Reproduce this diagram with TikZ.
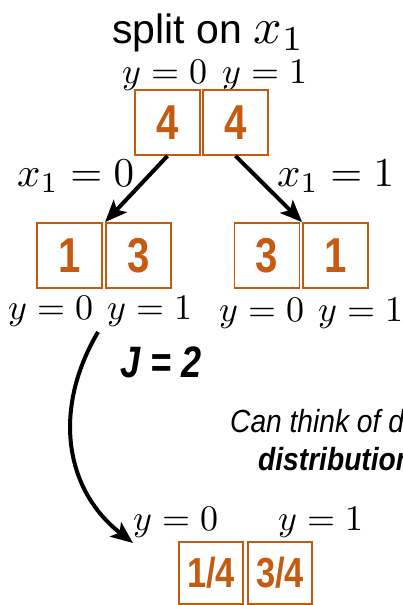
\documentclass[tikz,border=0pt]{standalone}
\usepackage[no-math]{fontspec}
\usepackage{graphicx}
\setmainfont{Liberation Sans}
\newfontfamily\narrowfont[FakeStretch=0.82]{Liberation Sans}
\newfontfamily\notefont[FakeStretch=0.88]{Liberation Sans}
\usetikzlibrary{arrows.meta}
\definecolor{boxorange}{RGB}{197,90,17}
\newcommand\scaledmath[2]{\scalebox{#1}{\normalsize$#2$}}
\tikzset{
  cnt/.style={draw=boxorange, line width=1.8pt, minimum width=65pt, minimum height=65pt,
    inner sep=0pt, text=boxorange, font=\narrowfont\bfseries\fontsize{49}{49}\selectfont},
  fracbox/.style={cnt, minimum width=64pt, minimum height=62pt,
    font=\narrowfont\bfseries\fontsize{42}{42}\selectfont},
  txt/.style={anchor=base west, inner sep=0pt},
  bigarrow/.style={line width=4pt, -{Stealth[length=22pt,width=18pt,inset=5pt]}},
}
\begin{document}
\begin{tikzpicture}[x=1pt,y=1pt]
\useasboundingbox (0,0) rectangle (402,-605);
\clip (0,0) rectangle (402,-605);
% title
\node[txt, font=\fontsize{41}{41}\selectfont] (title) at (112,-43) {split on \scaledmath{5.0}{x_1}};
% top level
\node[txt] (ty0) at (122,-83) {\scaledmath{3.6}{y=0}};
\node[txt] (ty1) at (222,-83) {\scaledmath{3.6}{y=1}};
\node[cnt] (t0) at (167.5,-122.5) {4};
\node[cnt] (t1) at (235.5,-122.5) {4};
% edge labels
\node[txt] (e0) at (17,-186) {\scaledmath{4.1}{x_1=0}};
\node[txt] (e1) at (277,-186) {\scaledmath{4.1}{x_1=1}};
% middle level
\node[cnt] (m1) at (69.5,-255.5) {1};
\node[cnt] (m2) at (138.5,-255.5) {3};
\node[cnt] (m3) at (267,-255.5) {3};
\node[cnt] (m4) at (335.5,-255.5) {1};
\node[txt] (my0) at (8,-319) {\scaledmath{3.6}{y=0}};
\node[txt] (my1) at (107,-319) {\scaledmath{3.6}{y=1}};
\node[txt] (my2) at (219,-321) {\scaledmath{3.6}{y=0}};
\node[txt] (my3) at (318,-321) {\scaledmath{3.6}{y=1}};
\draw[bigarrow] (t0.south) -- (m2.north west);
\draw[bigarrow] (t1.south) -- (m4.north west);
% J = 2
\node[txt, font=\narrowfont\bfseries\itshape\fontsize{44}{44}\selectfont] (J) at (120,-377) {J = 2};
% curved arrow
\coordinate (cstart) at (98,-332);
\coordinate (cend) at (133,-543);
\draw[bigarrow] (cstart) .. controls (52,-410) and (65,-490) .. (cend);
% side note (cut off at the right edge)
\node[txt, font=\notefont\itshape\fontsize{32}{32}\selectfont] (note1) at (230,-432) {Can think of d};
\node[txt, font=\notefont\bfseries\itshape\fontsize{32}{32}\selectfont] (note2) at (258,-470) {distribution};
% bottom level
\node[txt] (by0) at (133,-530) {\scaledmath{3.6}{y=0}};
\node[txt] (by1) at (278,-530) {\scaledmath{3.6}{y=1}};
\node[fracbox] (b1) at (211,-573) {1/4};
\node[fracbox] (b2) at (280,-573) {3/4};
\end{tikzpicture}
\end{document}
